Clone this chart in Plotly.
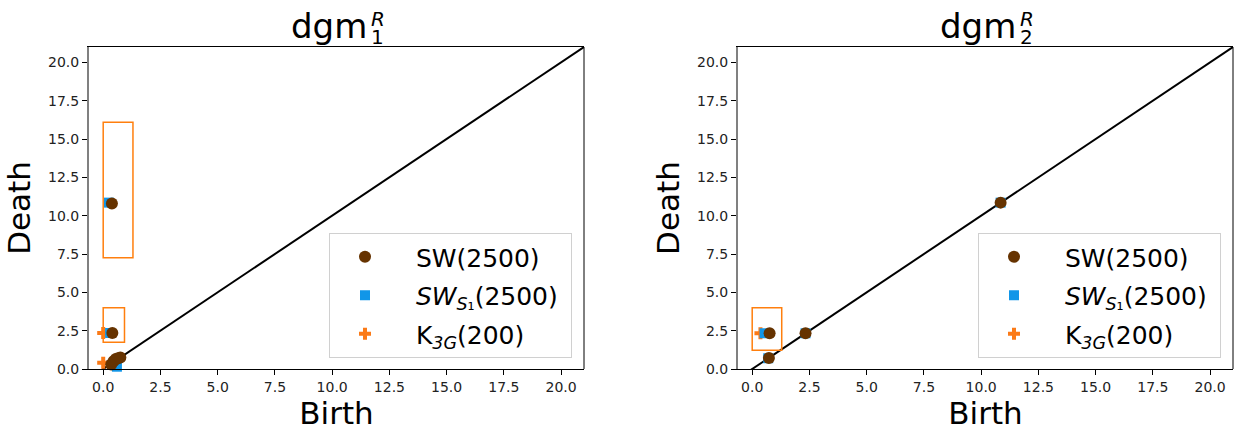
import plotly.graph_objects as go

# ---------------- data ----------------
# Left panel: dgm_1^R
sw1_birth = [0.38, 0.40, 0.35, 0.45, 0.55, 0.65, 0.75]
sw1_death = [10.80, 2.35, 0.30, 0.50, 0.65, 0.70, 0.75]
sws1_1_birth = [0.25, 0.30, 0.60]
sws1_1_death = [10.85, 2.35, 0.15]
k3g1_birth = [0.00, 0.00]
k3g1_death = [2.35, 0.40]

# Right panel: dgm_2^R
sw2_birth = [10.85, 2.33, 0.76, 0.73]
sw2_death = [10.85, 2.33, 2.33, 0.72]
sws1_2_birth = [10.85, 2.33, 0.54, 0.70]
sws1_2_death = [10.85, 2.33, 2.33, 0.70]
k3g2_birth = [0.36]
k3g2_death = [2.33]

# highlight boxes (x0, x1, y0, y1)
boxes1 = [(0.0, 1.3, 7.25, 16.1), (0.0, 0.93, 1.75, 4.0)]
boxes2 = [(0.0, 1.29, 1.22, 4.0)]

tick_vals = [0, 2.5, 5, 7.5, 10, 12.5, 15, 17.5, 20]
x_range = [-0.62, 21.0]
y_range = [0, 21.0]

BROWN = "#663300"
BLUE = "#1196e8"
ORANGE = "#fb7a17"
BOX_ORANGE = "#ff7f0e"

W, H = 1239, 433
dom_x = [[89 / W, 584 / W], [738 / W, 1233 / W]]
dom_y = [(H - 369) / H, (H - 47) / H]

fig = go.Figure()

panels = [
    (sw1_birth, sw1_death, sws1_1_birth, sws1_1_death, k3g1_birth, k3g1_death, boxes1),
    (sw2_birth, sw2_death, sws1_2_birth, sws1_2_death, k3g2_birth, k3g2_death, boxes2),
]

NB = "\u00a0\u00a0"
for i, (swb, swd, sb, sd, kb, kd, boxes) in enumerate(panels):
    sfx = "" if i == 0 else "2"
    xa, ya = "x" + sfx, "y" + sfx
    leg = "legend" if i == 0 else "legend2"
    # diagonal
    fig.add_trace(go.Scatter(x=[x_range[0], x_range[1]], y=[x_range[0], x_range[1]],
                             mode="lines", line=dict(color="black", width=2),
                             showlegend=False, xaxis=xa, yaxis=ya, hoverinfo="skip"))
    fig.add_trace(go.Scatter(x=kb, y=kd, mode="markers", name=NB + "K<sub><i>3G</i></sub>(200)",
                             legendgroup=f"k{i}", legendrank=3,
                             marker=dict(symbol="cross", size=10, color=ORANGE, line=dict(width=0)),
                             xaxis=xa, yaxis=ya, legend=leg, cliponaxis=False))
    fig.add_trace(go.Scatter(x=sb, y=sd, mode="markers", name=NB + "<i>SW</i><sub><i>S</i>₁</sub>(2500)\u00a0",
                             legendgroup=f"s{i}", legendrank=2,
                             marker=dict(symbol="square", size=10, color=BLUE, line=dict(width=0)),
                             xaxis=xa, yaxis=ya, legend=leg, cliponaxis=False))
    fig.add_trace(go.Scatter(x=swb, y=swd, mode="markers", name=NB + "SW(2500)",
                             legendgroup=f"w{i}", legendrank=1,
                             marker=dict(symbol="circle", size=12, color=BROWN, line=dict(width=0)),
                             xaxis=xa, yaxis=ya, legend=leg, cliponaxis=False))
    for (x0, x1, y0, y1) in boxes:
        fig.add_shape(type="rect", x0=x0, x1=x1, y0=y0, y1=y1, xref=xa, yref=ya,
                      line=dict(color=BOX_ORANGE, width=1.5))
    # right spine
    fig.add_shape(type="line", xref=xa + " domain", yref=ya + " domain",
                  x0=1, x1=1, y0=0, y1=1, line=dict(color="black", width=1))

axis_common = dict(showgrid=False, zeroline=False, ticks="outside", ticklen=5,
                   tickcolor="black", tickfont=dict(size=14, color="#222"),
                   tickvals=tick_vals, tickformat=".1f", automargin=False)
for i in range(2):
    sfx = "" if i == 0 else "2"
    fig.update_layout(**{
        "xaxis" + sfx: dict(domain=dom_x[i], range=x_range, anchor="y" + sfx,
                            showline=True, linecolor="black", linewidth=1, mirror=True,
                            title=dict(text="Birth", font=dict(size=31, color="black"), standoff=8),
                            **axis_common),
        "yaxis" + sfx: dict(domain=dom_y, range=y_range, anchor="x" + sfx,
                            showline=True, linecolor="#808080", linewidth=2, mirror=False,
                            title=dict(text="Death", font=dict(size=31, color="black"), standoff=8),
                            **axis_common),
    })

legend_common = dict(bgcolor="white", bordercolor="#d0d0d0", borderwidth=1,
                     font=dict(size=25, color="black", family="DejaVu Sans"),
                     xanchor="left", yanchor="top", traceorder="grouped",
                     tracegroupgap=3, itemwidth=60)
fig.update_layout(
    legend=dict(x=329 / W, y=(H - 233) / H, **legend_common),
    legend2=dict(x=978 / W, y=(H - 233) / H, **legend_common),
)

# titles: dgm with stacked sub/superscripts
annos = []
for cx_right, sub in [(363, "1"), (1012, "2")]:
    annos.append(dict(text="dgm", xref="paper", yref="paper", x=(cx_right + 6) / W, y=(H - 26) / H,
                      xanchor="right", yanchor="middle", showarrow=False,
                      font=dict(size=34, color="black")))
    annos.append(dict(text="<i>R</i>", xref="paper", yref="paper", x=(cx_right + 6) / W, y=(H - 19) / H,
                      xanchor="left", yanchor="middle", showarrow=False,
                      font=dict(size=20, color="black")))
    annos.append(dict(text=sub, xref="paper", yref="paper",
                      x=(cx_right + 6) / W, y=(H - 37) / H,
                      xanchor="left", yanchor="middle", showarrow=False,
                      font=dict(size=20, color="black")))
fig.update_layout(annotations=annos)

fig.update_layout(width=W, height=H, margin=dict(l=0, r=0, t=0, b=0, autoexpand=False),
                  paper_bgcolor="white", plot_bgcolor="white",
                  font=dict(family="DejaVu Sans", color="black"))

fig.write_html("out.html")
